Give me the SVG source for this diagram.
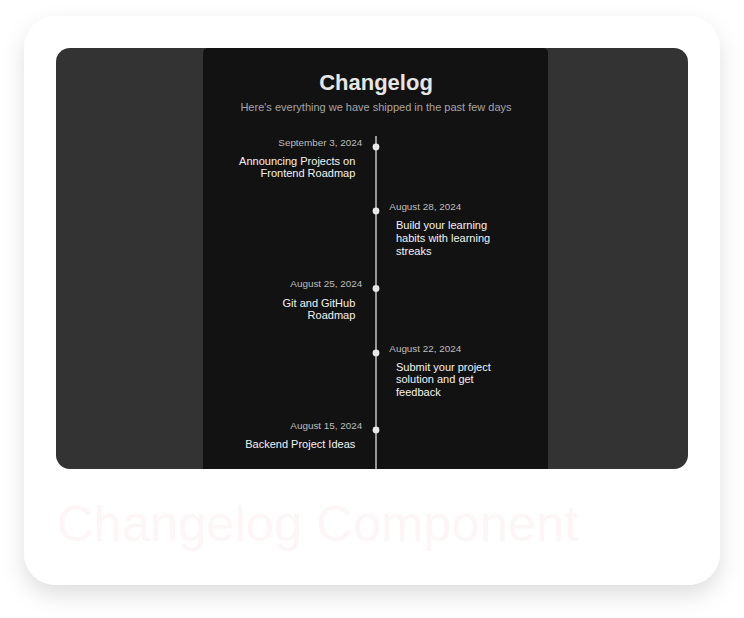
<svg xmlns="http://www.w3.org/2000/svg" width="744" height="618" viewBox="0 0 744 618">
<defs>
<filter id="sh" x="-10%" y="-10%" width="120%" height="125%">
<feDropShadow dx="0" dy="10" stdDeviation="11" flood-color="#000" flood-opacity="0.13"/>
</filter>
<clipPath id="clip"><rect x="56" y="48" width="632" height="421" rx="14"/></clipPath>
</defs>
<style>
text{font-family:"Liberation Sans",Arial,Helvetica,sans-serif}
.date{font-size:9.9px;fill:#bdbdbd}
.item{font-size:11px;fill:#f2f2f2}
.r{text-anchor:end}
.dot{fill:#e8e8e8}
</style>
<rect width="744" height="618" fill="#ffffff"/>
<rect x="24" y="16" width="696" height="569" rx="32" fill="#ffffff" filter="url(#sh)"/>
<g clip-path="url(#clip)">
<rect x="56" y="48" width="632" height="421" fill="#333333"/>
<rect x="203" y="48" width="345" height="430" rx="5" fill="#121212"/>
</g>
<g id="header">
<text x="376" y="90" text-anchor="middle" font-size="22" font-weight="bold" fill="#e6e6e6">Changelog</text>
<text x="376" y="111" text-anchor="middle" font-size="11" fill="#a6a6a6">Here's everything we have shipped in the past few days</text>
</g>
<g id="connectors">
<line x1="376" y1="136" x2="376" y2="469" stroke="#e0e0e0" stroke-width="1.3"/>
</g>
<g id="entry-sep3">
<circle class="dot" cx="376" cy="147" r="3.4"/>
<text class="date r" x="362.3" y="146">September 3, 2024</text>
<text class="item r" x="355.3" y="164.5">Announcing Projects on</text>
<text class="item r" x="355.3" y="177.3">Frontend Roadmap</text>
</g>
<g id="entry-aug28">
<circle class="dot" cx="376" cy="211" r="3.4"/>
<text class="date" x="389.3" y="209.5">August 28, 2024</text>
<text class="item" x="396" y="229">Build your learning</text>
<text class="item" x="396" y="241.8">habits with learning</text>
<text class="item" x="396" y="254.6">streaks</text>
</g>
<g id="entry-aug25">
<circle class="dot" cx="376" cy="288.5" r="3.4"/>
<text class="date r" x="362.3" y="287.3">August 25, 2024</text>
<text class="item r" x="355.3" y="306.5">Git and GitHub</text>
<text class="item r" x="355.3" y="319.3">Roadmap</text>
</g>
<g id="entry-aug22">
<circle class="dot" cx="376" cy="353" r="3.4"/>
<text class="date" x="389.3" y="351.7">August 22, 2024</text>
<text class="item" x="396" y="370.7">Submit your project</text>
<text class="item" x="396" y="383.3">solution and get</text>
<text class="item" x="396" y="396">feedback</text>
</g>
<g id="entry-aug15">
<circle class="dot" cx="376" cy="430" r="3.4"/>
<text class="date r" x="362.3" y="429">August 15, 2024</text>
<text class="item r" x="355.3" y="448.3">Backend Project Ideas</text>
</g>
<g id="caption">
<text x="57" y="541" font-size="50.7" fill="#fcf6f6">Changelog Component</text>
</g>
</svg>
